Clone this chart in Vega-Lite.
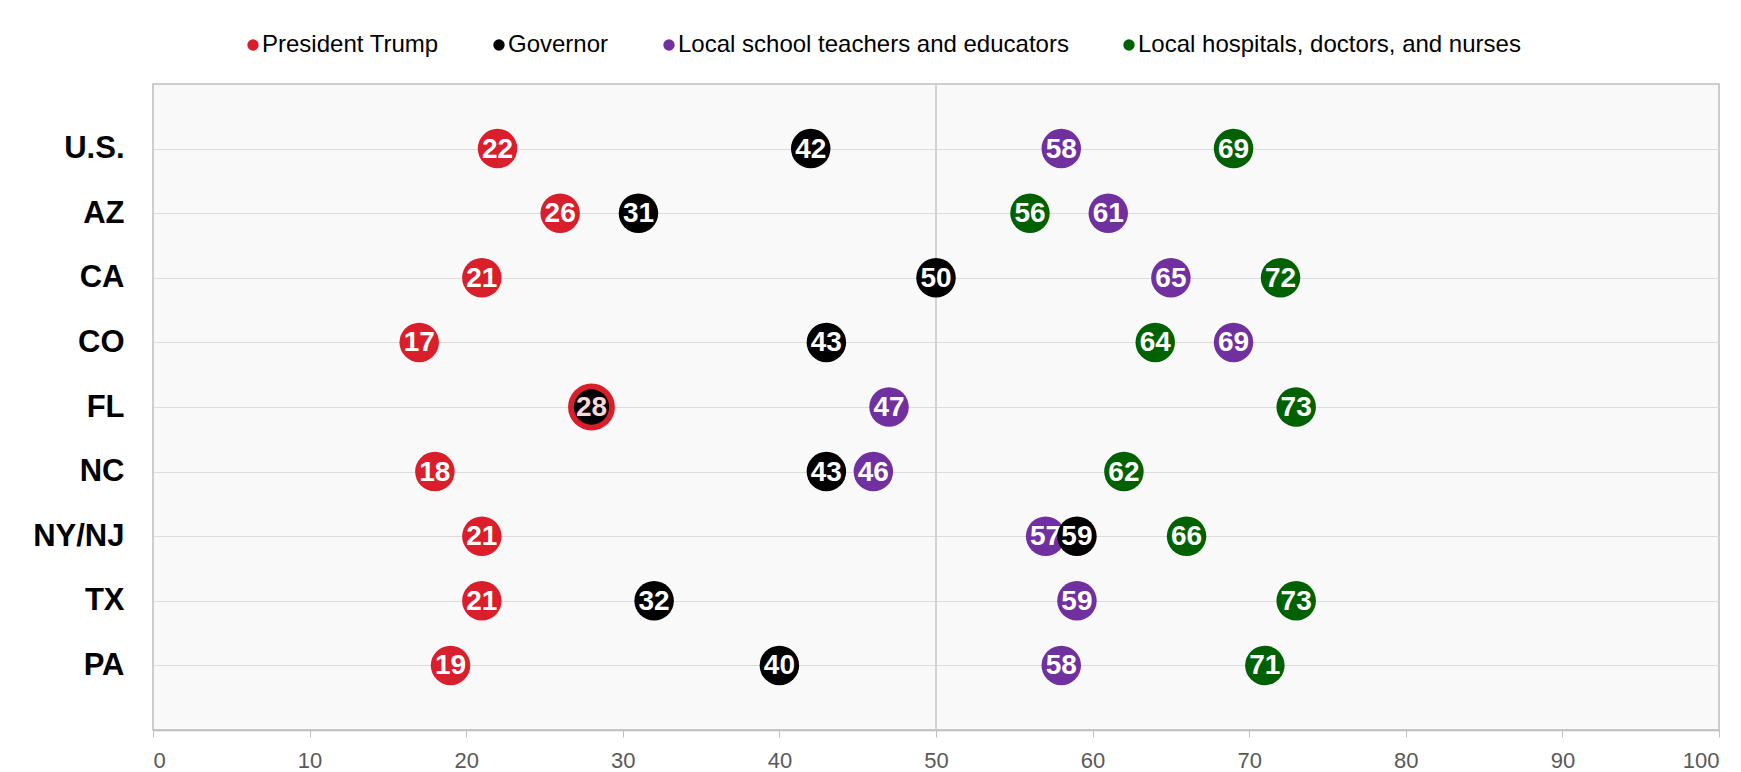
{
  "$schema": "https://vega.github.io/schema/vega-lite/v6.json",
  "width": 1566,
  "height": 646,
  "autosize": {"type": "none"},
  "padding": {"left": 153, "top": 84, "right": 22, "bottom": 42},
  "background": "white",
  "config": {
    "view": {"fill": "#F9F9F9", "stroke": "#BFBFBF", "strokeWidth": 1.5},
    "font": "Liberation Sans"
  },
  "data": {"values": [
    {"state": "U.S.", "group": "President Trump", "value": 22},
    {"state": "AZ", "group": "President Trump", "value": 26},
    {"state": "CA", "group": "President Trump", "value": 21},
    {"state": "CO", "group": "President Trump", "value": 17},
    {"state": "FL", "group": "President Trump", "value": 28},
    {"state": "NC", "group": "President Trump", "value": 18},
    {"state": "NY/NJ", "group": "President Trump", "value": 21},
    {"state": "TX", "group": "President Trump", "value": 21},
    {"state": "PA", "group": "President Trump", "value": 19},
    {"state": "U.S.", "group": "Local school teachers and educators", "value": 58},
    {"state": "AZ", "group": "Local school teachers and educators", "value": 61},
    {"state": "CA", "group": "Local school teachers and educators", "value": 65},
    {"state": "CO", "group": "Local school teachers and educators", "value": 69},
    {"state": "FL", "group": "Local school teachers and educators", "value": 47},
    {"state": "NC", "group": "Local school teachers and educators", "value": 46},
    {"state": "NY/NJ", "group": "Local school teachers and educators", "value": 57},
    {"state": "TX", "group": "Local school teachers and educators", "value": 59},
    {"state": "PA", "group": "Local school teachers and educators", "value": 58},
    {"state": "U.S.", "group": "Local hospitals, doctors, and nurses", "value": 69},
    {"state": "AZ", "group": "Local hospitals, doctors, and nurses", "value": 56},
    {"state": "CA", "group": "Local hospitals, doctors, and nurses", "value": 72},
    {"state": "CO", "group": "Local hospitals, doctors, and nurses", "value": 64},
    {"state": "FL", "group": "Local hospitals, doctors, and nurses", "value": 73},
    {"state": "NC", "group": "Local hospitals, doctors, and nurses", "value": 62},
    {"state": "NY/NJ", "group": "Local hospitals, doctors, and nurses", "value": 66},
    {"state": "TX", "group": "Local hospitals, doctors, and nurses", "value": 73},
    {"state": "PA", "group": "Local hospitals, doctors, and nurses", "value": 71},
    {"state": "U.S.", "group": "Governor", "value": 42},
    {"state": "AZ", "group": "Governor", "value": 31},
    {"state": "CA", "group": "Governor", "value": 50},
    {"state": "CO", "group": "Governor", "value": 43},
    {"state": "FL", "group": "Governor", "value": 28},
    {"state": "NC", "group": "Governor", "value": 43},
    {"state": "NY/NJ", "group": "Governor", "value": 59},
    {"state": "TX", "group": "Governor", "value": 32},
    {"state": "PA", "group": "Governor", "value": 40}
  ]},
  "layer": [
    {
      "data": {"values": [{"x": 50}]},
      "mark": {"type": "rule", "color": "#D3D3D3", "strokeWidth": 2},
      "encoding": {"x": {"field": "x", "type": "quantitative", "scale": {"domain": [0, 100]}}}
    },
    {
      "transform": [{"filter": "datum.group === 'President Trump'"}],
      "mark": {"type": "point", "filled": true, "opacity": 1},
      "encoding": {
        "x": {"field": "value", "type": "quantitative", "scale": {"domain": [0, 100]},
          "axis": {"title": null, "grid": false, "values": [0,10,20,30,40,50,60,70,80,90,100], "labelFontSize": 22, "labelColor": "#595959", "labelPadding": 13, "tickColor": "#BFBFBF", "tickSize": 7, "domainColor": "#BFBFBF", "domainWidth": 1.5}},
        "y": {"field": "state", "type": "nominal", "sort": ["U.S.", "AZ", "CA", "CO", "FL", "NC", "NY/NJ", "TX", "PA"], "scale": {"type": "point", "padding": 1},
          "axis": {"title": null, "ticks": false, "tickSize": 0, "domain": false, "labelFontSize": 31, "labelFontWeight": "bold", "labelColor": "#000000", "labelPadding": 29, "grid": true, "gridColor": "#DCDCDC", "gridWidth": 1}},
        "color": {"field": "group", "type": "nominal",
          "scale": {"domain": ["President Trump", "Governor", "Local school teachers and educators", "Local hospitals, doctors, and nurses"], "range": ["#D91F2C", "#000000", "#7030A0", "#006100"]},
          "legend": {"title": null, "orient": "none", "legendX": 88, "legendY": -51, "direction": "horizontal", "symbolType": "circle", "symbolSize": 130, "symbolStrokeWidth": 0, "labelFontSize": 24, "labelColor": "#000000", "labelOffset": -3, "labelLimit": 800, "columnPadding": 48}},
        "size": {"condition": {"test": "datum.state === 'FL'", "value": 2200}, "value": 1560}
      }
    },
    {
      "transform": [{"filter": "datum.group === 'President Trump'"}],
      "mark": {"type": "text", "font": "Liberation Sans", "fontWeight": "bold", "fontSize": 28, "color": "white", "align": "center", "baseline": "middle", "dy": 1},
      "encoding": {
        "x": {"field": "value", "type": "quantitative"},
        "y": {"field": "state", "type": "nominal", "sort": ["U.S.", "AZ", "CA", "CO", "FL", "NC", "NY/NJ", "TX", "PA"]},
        "text": {"field": "value", "type": "quantitative"}
      }
    },
    {
      "transform": [{"filter": "datum.group === 'Local school teachers and educators'"}],
      "mark": {"type": "point", "filled": true, "opacity": 1, "size": 1560},
      "encoding": {
        "x": {"field": "value", "type": "quantitative"},
        "y": {"field": "state", "type": "nominal", "sort": ["U.S.", "AZ", "CA", "CO", "FL", "NC", "NY/NJ", "TX", "PA"]},
        "color": {"field": "group", "type": "nominal"}
      }
    },
    {
      "transform": [{"filter": "datum.group === 'Local school teachers and educators'"}],
      "mark": {"type": "text", "font": "Liberation Sans", "fontWeight": "bold", "fontSize": 28, "color": "white", "align": "center", "baseline": "middle", "dy": 1},
      "encoding": {
        "x": {"field": "value", "type": "quantitative"},
        "y": {"field": "state", "type": "nominal", "sort": ["U.S.", "AZ", "CA", "CO", "FL", "NC", "NY/NJ", "TX", "PA"]},
        "text": {"field": "value", "type": "quantitative"}
      }
    },
    {
      "transform": [{"filter": "datum.group === 'Local hospitals, doctors, and nurses'"}],
      "mark": {"type": "point", "filled": true, "opacity": 1, "size": 1560},
      "encoding": {
        "x": {"field": "value", "type": "quantitative"},
        "y": {"field": "state", "type": "nominal", "sort": ["U.S.", "AZ", "CA", "CO", "FL", "NC", "NY/NJ", "TX", "PA"]},
        "color": {"field": "group", "type": "nominal"}
      }
    },
    {
      "transform": [{"filter": "datum.group === 'Local hospitals, doctors, and nurses'"}],
      "mark": {"type": "text", "font": "Liberation Sans", "fontWeight": "bold", "fontSize": 28, "color": "white", "align": "center", "baseline": "middle", "dy": 1},
      "encoding": {
        "x": {"field": "value", "type": "quantitative"},
        "y": {"field": "state", "type": "nominal", "sort": ["U.S.", "AZ", "CA", "CO", "FL", "NC", "NY/NJ", "TX", "PA"]},
        "text": {"field": "value", "type": "quantitative"}
      }
    },
    {
      "transform": [{"filter": "datum.group === 'Governor'"}],
      "mark": {"type": "point", "filled": true, "opacity": 1},
      "encoding": {
        "x": {"field": "value", "type": "quantitative"},
        "y": {"field": "state", "type": "nominal", "sort": ["U.S.", "AZ", "CA", "CO", "FL", "NC", "NY/NJ", "TX", "PA"]},
        "color": {"field": "group", "type": "nominal"},
        "size": {"condition": {"test": "datum.state === 'FL'", "value": 1250}, "value": 1560}
      }
    },
    {
      "transform": [{"filter": "datum.group === 'Governor'"}],
      "mark": {"type": "text", "font": "Liberation Sans", "fontWeight": "bold", "fontSize": 28, "color": "white", "align": "center", "baseline": "middle", "dy": 1},
      "encoding": {
        "x": {"field": "value", "type": "quantitative"},
        "y": {"field": "state", "type": "nominal", "sort": ["U.S.", "AZ", "CA", "CO", "FL", "NC", "NY/NJ", "TX", "PA"]},
        "text": {"field": "value", "type": "quantitative"},
        "color": {"condition": {"test": "datum.state === 'FL'", "value": "#F8D8DC"}, "value": "white"}
      }
    }
  ]
}
